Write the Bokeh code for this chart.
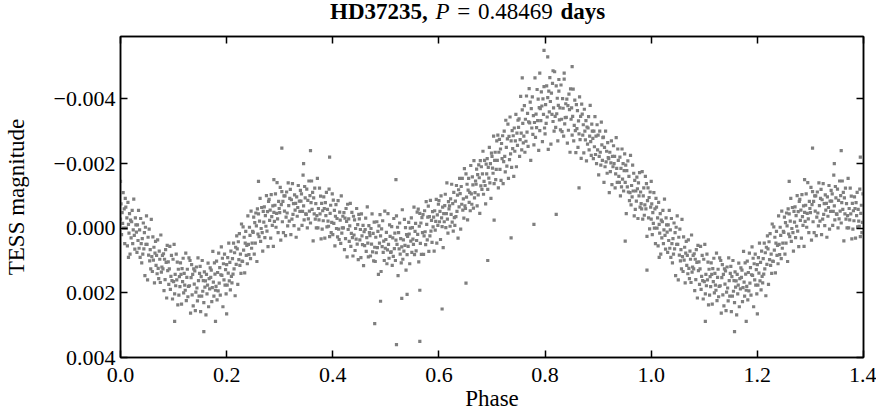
import numpy as np
from bokeh.plotting import figure
from bokeh.layouts import column
from bokeh.models import (Range1d, FixedTicker, CustomJSTickFormatter, LinearAxis,
                          ColumnDataSource, Div)
from bokeh.embed import file_html
from bokeh.resources import INLINE

# ---------------- data (phase in units of 0.001, magnitude in units of 1e-5 mag) -------------
phase_a = [
    0,1,2,3,4,5,6,7,8,9, 10,11,12,13,14,15,16,17,18,19, 20,21,22,23,24,25,26,27,28,29,
    30,31,32,33,34,35,36,37,38,39, 40,41,42,43,44,45,46,47,48,49, 50,51,52,53,54,55,56,57,58,59,
    60,61,62,63,64,65,66,67,68,69, 70,71,72,73,74,75,76,77,78,79, 80,81,82,83,84,85,86,87,88,89,
    90,91,92,93,94,95,96,97,98,99, 100,101,102,103,104,105,106,107,108,109,
    110,111,112,113,114,115,116,117,118,119, 120,121,122,123,124,125,126,127,128,129,
    130,131,132,133,134,135,136,137,138,139, 140,141,142,143,144,145,146,147,148,149,
    150,151,152,153,154,155,156,157,158,159, 160,161,162,163,164,165,166,167,168,169,
    170,171,172,173,174,175,176,177,178,179, 180,181,182,183,184,185,186,187,188,189,
    190,191,192,193,194,195,196,197,198,199, 200,201,202,203,204,205,206,207,208,209,
    210,211,212,213,214,215,216,217,218,219, 220,221,222,223,224,225,226,227,228,229,
    230,231,232,233,234,235,236,237,238,239, 240,241,242,243,244,245,246,247,248,249,
]
mag_a = [
    -28,-75,20,-48,-15,-110,0,-60,48,-92, -65,0,-32,55,-80,-12,15,-45,80,-25,
    30,-20,-55,48,5,-90,22,65,-32,-10, 12,75,-10,38,-55,62,5,90,-30,48,
    107,32,80,-16,64,14,147,-3,50,-38, 50,160,28,83,3,101,66,126,-27,88,
    134,27,99,59,169,77,41,115,84,141, 36,124,156,71,96,168,21,136,120,84,
    126,79,193,96,159,66,106,216,53,131, 104,174,126,56,189,149,84,162,219,96,
    165,50,203,143,178,80,160,105,237,127, 207,150,181,107,143,235,125,165,93,200,
    140,176,192,77,224,152,127,212,180,92, 178,100,263,153,113,206,143,240,126,173,
    132,255,198,120,185,225,92,162,210,140, 118,258,150,210,100,195,162,230,135,182,
    163,268,143,203,176,108,243,156,188,123, 152,130,227,184,72,167,210,107,142,192,
    180,102,222,137,194,77,170,122,207,144, 58,146,93,243,110,160,80,176,128,203,
    113,176,91,139,46,163,106,191,71,149, 169,94,142,46,126,76,209,59,112,24,
    64,174,42,97,17,115,80,140,-13,102, 103,-4,68,28,138,46,10,84,53,110,
    -38,50,82,-3,22,94,-53,62,46,10,
]
phase_b = [
    250,251,252,253,254,255,256,257,258,259, 260,261,262,263,264,265,266,267,268,269,
    270,271,272,273,274,275,276,277,278,279, 280,281,282,283,284,285,286,287,288,289,
    290,291,292,293,294,295,296,297,298,299, 300,301,302,303,304,305,306,307,308,309,
    310,311,312,313,314,315,316,317,318,319, 320,321,322,323,324,325,326,327,328,329,
    330,331,332,333,334,335,336,337,338,339, 340,341,342,343,344,345,346,347,348,349,
    350,351,352,353,354,355,356,357,358,359, 360,361,362,363,364,365,366,367,368,369,
    370,371,372,373,374,375,376,377,378,379, 380,381,382,383,384,385,386,387,388,389,
    390,391,392,393,394,395,396,397,398,399, 400,401,402,403,404,405,406,407,408,409,
    410,411,412,413,414,415,416,417,418,419, 420,421,422,423,424,425,426,427,428,429,
    430,431,432,433,434,435,436,437,438,439, 440,441,442,443,444,445,446,447,448,449,
    450,451,452,453,454,455,456,457,458,459, 460,461,462,463,464,465,466,467,468,469,
    470,471,472,473,474,475,476,477,478,479, 480,481,482,483,484,485,486,487,488,489,
    490,491,492,493,494,495,496,497,498,499,
]
mag_b = [
    13,-34,80,-17,46,-47,-7,103,-60,18, -44,26,-22,-92,41,1,-64,14,71,-52,
    -19,-66,29,-39,-6,-101,9,-51,57,-83, -89,-24,-56,31,-104,-36,-9,-69,56,-49,
    -21,-71,-106,-3,-46,-141,-29,14,-83,-61, -48,-126,37,-73,-113,-20,-83,14,-100,-53,
    -100,23,-34,-112,-47,-7,-140,-70,-22,-92, -120,20,-88,-28,-138,-43,-76,-8,-103,-56,
    -77,28,-97,-37,-64,-132,3,-84,-52,-117, -84,-106,-9,-52,-164,-69,-26,-129,-94,-44,
    -43,-121,-1,-86,-29,-146,-53,-101,-16,-79, -146,-58,-111,39,-94,-44,-124,-28,-76,-1,
    -39,-154,-1,-61,-26,-124,-44,-99,33,-77, 3,-54,-23,-97,-61,31,-79,-39,-111,-4,
    -58,-22,-6,-121,26,-46,-71,14,-18,-106, 20,-87,-15,-55,55,-37,-73,1,-30,27,
    -85,3,35,-50,-25,47,-100,15,-1,-37, -1,-48,66,-31,32,-61,-21,89,-74,4,
    -29,41,-7,-77,56,16,-49,29,86,-37, 21,-26,69,1,34,-61,49,-11,97,-43,
    -29,36,4,91,-44,24,51,-9,116,11, 54,4,-31,72,29,-66,46,89,-8,14,
    23,86,1,49,-44,73,16,101,-19,59, 103,28,76,-20,60,10,143,-7,46,-42,
    24,134,2,57,-23,75,40,100,-53,62,
]
phase_c = [
    500,501,502,503,504,505,506,507,508,509, 510,511,512,513,514,515,516,517,518,519,
    520,521,522,523,524,525,526,527,528,529, 530,531,532,533,534,535,536,537,538,539,
    540,541,542,543,544,545,546,547,548,549, 550,551,552,553,554,555,556,557,558,559,
    560,561,562,563,564,565,566,567,568,569, 570,571,572,573,574,575,576,577,578,579,
    580,581,582,583,584,585,586,587,588,589, 590,591,592,593,594,595,596,597,598,599,
    600,601,602,603,604,605,606,607,608,609, 610,611,612,613,614,615,616,617,618,619,
    620,621,622,623,624,625,626,627,628,629, 630,631,632,633,634,635,636,637,638,639,
    640,641,642,643,644,645,646,647,648,649, 650,651,652,653,654,655,656,657,658,659,
    660,661,662,663,664,665,666,667,668,669, 670,671,672,673,674,675,676,677,678,679,
    680,681,682,683,684,685,686,687,688,689, 690,691,692,693,694,695,696,697,698,699,
    700,701,702,703,704,705,706,707,708,709, 710,711,712,713,714,715,716,717,718,719,
    720,721,722,723,724,725,726,727,728,729, 730,731,732,733,734,735,736,737,738,739,
    740,741,742,743,744,745,746,747,748,749,
]
mag_c = [
    35,13,110,67,-45,50,93,-10,25,75, 73,-5,115,30,87,-30,63,15,100,37,
    -38,50,-3,147,14,64,-16,80,32,107, 58,-57,96,36,71,-27,53,-2,130,20,
    82,25,56,-18,18,110,0,40,-32,75, -2,34,50,-65,82,10,-15,70,38,-50,
    19,-59,104,-6,-46,47,-16,81,-33,14, -42,81,24,-54,11,51,-82,-12,36,-34,
    -68,72,-36,24,-86,9,-24,44,-51,-4, -34,71,-54,6,-21,-89,46,-41,-9,-74,
    -85,-20,-52,35,-100,-32,-5,-65,60,-45, -20,-70,-105,-2,-45,-140,-28,15,-82,-60,
    -69,-6,-91,-43,-136,-19,-76,9,-111,-33, -9,-84,-36,-132,-52,-102,31,-119,-66,-154,
    -107,3,-129,-74,-154,-56,-91,-31,-184,-69, -61,-168,-96,-136,-26,-118,-154,-80,-111,-54,
    -194,-106,-74,-159,-134,-62,-209,-94,-110,-146, -136,-183,-69,-166,-103,-196,-156,-46,-209,-131,
    -190,-120,-168,-238,-105,-145,-210,-132,-75,-198, -168,-215,-120,-188,-155,-250,-140,-200,-92,-232,
    -222,-186,-170,-285,-138,-210,-235,-150,-182,-270, -210,-288,-125,-235,-275,-182,-245,-148,-262,-215,
    -286,-138,-206,-300,-222,-174,-334,-250,-192,-276, -322,-154,-284,-212,-344,-230,-270,-188,-302,-246,
    -286,-160,-310,-238,-270,-352,-190,-294,-256,-334,
]
phase_d = [
    750,751,752,753,754,755,756,757,758,759, 760,761,762,763,764,765,766,767,768,769,
    770,771,772,773,774,775,776,777,778,779, 780,781,782,783,784,785,786,787,788,789,
    790,791,792,793,794,795,796,797,798,799, 800,801,802,803,804,805,806,807,808,809,
    810,811,812,813,814,815,816,817,818,819, 820,821,822,823,824,825,826,827,828,829,
    830,831,832,833,834,835,836,837,838,839, 840,841,842,843,844,845,846,847,848,849,
    850,851,852,853,854,855,856,857,858,859, 860,861,862,863,864,865,866,867,868,869,
    870,871,872,873,874,875,876,877,878,879, 880,881,882,883,884,885,886,887,888,889,
    890,891,892,893,894,895,896,897,898,899, 900,901,902,903,904,905,906,907,908,909,
    910,911,912,913,914,915,916,917,918,919, 920,921,922,923,924,925,926,927,928,929,
    930,931,932,933,934,935,936,937,938,939, 940,941,942,943,944,945,946,947,948,949,
    950,951,952,953,954,955,956,957,958,959, 960,961,962,963,964,965,966,967,968,969,
    970,971,972,973,974,975,976,977,978,979, 980,981,982,983,984,985,986,987,988,989,
    990,991,992,993,994,995,996,997,998,999,
]
mag_d = [
    -312,-338,-222,-274,-408,-294,-242,-366,-324,-264, -285,-379,-235,-337,-269,-409,-297,-355,-253,-329,
    -432,-326,-390,-210,-370,-310,-406,-290,-348,-258, -327,-465,-281,-353,-311,-429,-333,-399,-241,-373,
    -302,-370,-333,-422,-378,-268,-400,-352,-438,-310, -292,-382,-324,-440,-344,-404,-244,-424,-360,-466,
    -392,-260,-418,-352,-448,-330,-372,-300,-484,-346, -312,-440,-354,-402,-270,-380,-424,-335,-372,-304,
    -443,-337,-299,-401,-371,-285,-461,-323,-342,-385, -343,-399,-263,-379,-303,-415,-367,-235,-431,-337,
    -372,-288,-346,-430,-270,-318,-396,-302,-234,-382, -308,-364,-250,-332,-292,-406,-274,-346,-216,-384,
    -353,-288,-320,-233,-368,-300,-273,-333,-208,-313, -260,-310,-345,-242,-285,-380,-268,-225,-322,-300,
    -278,-215,-300,-252,-345,-228,-285,-200,-320,-242, -288,-165,-222,-300,-235,-195,-328,-258,-210,-280,
    -282,-142,-250,-190,-300,-205,-238,-170,-265,-218, -215,-110,-235,-175,-202,-270,-135,-222,-190,-255,
    -200,-222,-125,-168,-280,-185,-142,-245,-210,-160, -142,-220,-100,-185,-128,-245,-152,-200,-115,-178,
    -230,-142,-195,-45,-178,-128,-208,-112,-160,-85, -110,-225,-72,-132,-97,-195,-115,-170,-38,-148,
    -58,-115,-84,-158,-122,-30,-140,-100,-172,-65, -112,-76,-60,-175,-28,-100,-125,-40,-72,-160,
    -60,-138,25,-85,-125,-32,-95,2,-112,-65,
]
# isolated points far from the main band
out_phase = [0, 15, 102, 157, 179, 200, 260, 289, 304, 345, 358, 394, 479, 490, 519, 520, 530,
             540, 564, 564, 606, 651, 692, 704, 736, 757, 779, 790, 798, 805, 815, 821, 826,
             836, 851, 864, 951, 992]
out_mag = [-145, 90, 288, 320, 288, 265, -145, -150, -248, -200, -240, -220, 295, 226, -150,
           360, 217, 205, 350, 192, 250, 170, 100, -25, 30, -465, -12, -480, -550, -530, -487,
           -43, -460, -480, -500, -125, 40, 130]

x_ticks = [0.0, 0.2, 0.4, 0.6, 0.8, 1.0, 1.2, 1.4]
y_ticks = [-0.004, -0.002, 0.0, 0.002, 0.004]
title_parts = ["HD37235,", "P", "=", "0.48469", "days"]
x_label = "Phase"
y_label = "TESS magnitude"

# ---------------- assemble --------------------------------------------------------------------
phase = np.array(phase_a + phase_b + phase_c + phase_d + out_phase, dtype=float) / 1000.0
mag = np.array(mag_a + mag_b + mag_c + mag_d + out_mag, dtype=float) * 1e-5
extra = phase < 0.4          # the first 0.4 of the cycle is shown again after phase 1
x_all = np.concatenate([phase, phase[extra] + 1.0])
y_all = np.concatenate([mag, mag[extra]])
src = ColumnDataSource(dict(phase=x_all, mag=y_all))

FONT = "Liberation Serif"

p = figure(frame_width=743, frame_height=321,
           x_range=Range1d(0.0, 1.4), y_range=Range1d(0.004, -0.00593),
           output_backend="svg", toolbar_location=None,
           min_border_left=120, min_border_right=13, min_border_top=8, min_border_bottom=60,
           background_fill_color="white", border_fill_color="white")
p.xgrid.visible = False
p.ygrid.visible = False
p.outline_line_color = "black"
p.outline_line_width = 1.5

p.scatter("phase", "mag", source=src, marker="square", size=3.2,
          fill_color="#7f7f7f", line_color=None)

xfmt = CustomJSTickFormatter(code="return tick.toFixed(1);")
yfmt = CustomJSTickFormatter(code="""
const v = Math.abs(tick) < 1e-12 ? 0 : tick;
return (v < 0 ? "\u2212" : "") + Math.abs(v).toFixed(3);
""")
blank = CustomJSTickFormatter(code="return '';")

def style_axis(ax):
    ax.major_tick_in = 7
    ax.major_tick_out = 0
    ax.minor_tick_line_color = None
    ax.axis_line_width = 1.5
    ax.major_tick_line_width = 1.5
    ax.axis_line_color = "black"
    ax.major_tick_line_color = "black"
    ax.major_label_text_font = FONT
    ax.major_label_text_font_size = "22px"
    ax.major_label_text_color = "black"
    ax.axis_label_text_font = FONT
    ax.axis_label_text_font_size = "23px"
    ax.axis_label_text_font_style = "normal"
    ax.axis_label_text_color = "black"

xa = p.xaxis[0]
xa.ticker = FixedTicker(ticks=x_ticks)
xa.formatter = xfmt
style_axis(xa)
xa.major_label_standoff = 10
xa.axis_label = x_label
xa.axis_label_standoff = 1

ya = p.yaxis[0]
ya.ticker = FixedTicker(ticks=y_ticks)
ya.formatter = yfmt
style_axis(ya)
ya.major_label_standoff = 5
ya.axis_label = y_label
ya.axis_label_standoff = 22

top = LinearAxis(ticker=FixedTicker(ticks=x_ticks), formatter=blank)
style_axis(top)
top.major_label_text_font_size = "0px"
top.major_label_standoff = 0
p.add_layout(top, "above")

right = LinearAxis(ticker=FixedTicker(ticks=y_ticks), formatter=blank)
style_axis(right)
right.major_label_text_font_size = "0px"
right.major_label_standoff = 0
p.add_layout(right, "right")

title_html = (f"<b>{title_parts[0]}</b> <i>{title_parts[1]}</i> {title_parts[2]} "
              f"{title_parts[3]} <b>{title_parts[4]}</b>")
title_div = Div(text=title_html, width=876, height=28, margin=0,
                styles={"font-family": "'Liberation Serif', serif", "font-size": "23px",
                        "color": "black", "line-height": "23.5px", "white-space": "nowrap",
                        "word-spacing": "2px", "text-indent": "330px"})

layout = column(title_div, p, spacing=0)

open("out.html", "w").write(file_html(layout, INLINE))
